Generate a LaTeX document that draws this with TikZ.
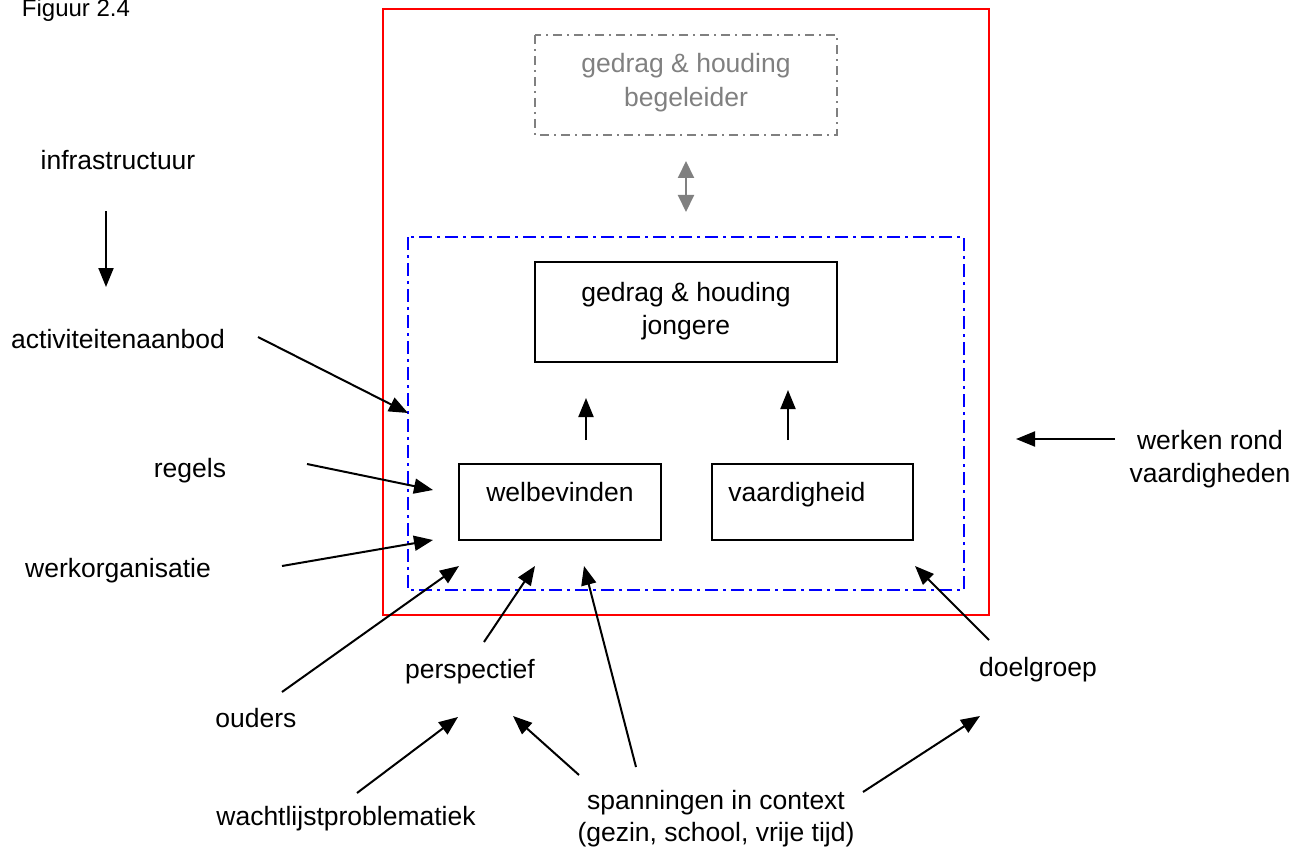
\documentclass[tikz,border=0pt]{standalone}
\usepackage{fontspec}
\setmainfont{Liberation Sans}
\usetikzlibrary{arrows.meta}
\definecolor{framered}{RGB}{255,0,0}
\definecolor{zoneblue}{RGB}{0,0,255}
\definecolor{softgray}{RGB}{128,128,128}
\begin{document}
\begin{tikzpicture}[x=1pt,y=-1pt,
  lbl/.style={font=\fontsize{26.5}{32.5}\selectfont, inner sep=0pt, align=center},
  boxed/.style={draw=black, line width=2.5pt, inner sep=0pt},
  arr/.style={line width=2pt, -{Triangle[length=19pt,width=15pt]}},
  garr/.style={line width=2pt, draw=softgray, {Triangle[length=17pt,width=16pt]}-{Triangle[length=17pt,width=16pt]}},
]
\useasboundingbox (0,0) rectangle (1310,848);

% frames
\draw[framered, line width=2pt] (383,9) rectangle (989,615);
\draw[zoneblue, line width=2pt, dash pattern=on 13pt off 5pt on 3pt off 5pt] (408,237) rectangle (964,590);
\draw[softgray, line width=2pt, dash pattern=on 9pt off 5pt on 2pt off 5pt] (535,35) rectangle (837,135);

% caption
\node[lbl, font=\fontsize{24}{28}\selectfont, anchor=base] (fig) at (76,17) {Figuur 2.4};

% coach box
\node[lbl, font=\fontsize{26.5}{34}\selectfont, text=softgray] (coach) at (686,83) {gedrag \& houding\\begeleider};
\coordinate (cA) at (686,161);
\coordinate (cB) at (686,212);
\draw[garr] (cA) -- (cB);

% youth boxes
\node[boxed, minimum width=302pt, minimum height=100pt] (youth) at (686,312) {};
\node[lbl] (youthtxt) at (686,311) {gedrag \& houding\\jongere};
\node[boxed, minimum width=202pt, minimum height=76pt] (wb) at (560,502) {};
\node[lbl, anchor=base] (wbtxt) at (560,501) {welbevinden};
\node[boxed, minimum width=201pt, minimum height=76pt] (vh) at (812.5,502) {};
\node[lbl, anchor=base] (vhtxt) at (797,501) {vaardigheid};

\coordinate (u1a) at (586,440); \coordinate (u1b) at (586,398);
\coordinate (u2a) at (788,440); \coordinate (u2b) at (788,390);
\draw[arr] (u1a) -- (u1b);
\draw[arr] (u2a) -- (u2b);

% external labels
\node[lbl, anchor=base] (infra) at (118,170) {infrastructuur};
\node[lbl, anchor=base] (act) at (118,348) {activiteitenaanbod};
\node[lbl, anchor=base] (reg) at (190,477) {regels};
\node[lbl, anchor=base] (werk) at (118,577) {werkorganisatie};
\node[lbl, anchor=base] (oud) at (256,727) {ouders};
\node[lbl, anchor=base] (persp) at (470,678) {perspectief};
\node[lbl, anchor=base] (doel) at (1038,676) {doelgroep};
\node[lbl, anchor=base] (wacht) at (346,825) {wachtlijstproblematiek};
\node[lbl, anchor=base] (span) at (716,809) {spanningen in context};
\node[lbl, anchor=base] (span2) at (716,841) {(gezin, school, vrije tijd)};
\node[lbl] (vaard) at (1210,459) {werken rond\\vaardigheden};

% connector ends
\coordinate (iA) at (106,211);  \coordinate (iB) at (106,287);
\coordinate (aA) at (258,337);  \coordinate (aB) at (408,413);
\coordinate (rA) at (307,464);  \coordinate (rB) at (433,490);
\coordinate (wA) at (282,566);  \coordinate (wB) at (433,540);
\coordinate (oA) at (282,692);  \coordinate (oB) at (459,566);
\coordinate (pA) at (484,642);  \coordinate (pB) at (535,566);
\coordinate (sA) at (636,767);  \coordinate (sB) at (584,566);
\coordinate (sC) at (579,775);  \coordinate (sD) at (513,716);
\coordinate (sE) at (863,792);  \coordinate (sF) at (980,716);
\coordinate (wtA) at (357,793); \coordinate (wtB) at (458,717);
\coordinate (dA) at (989,640);  \coordinate (dB) at (915,566);
\coordinate (vA) at (1115,439); \coordinate (vB) at (1016,439);

\draw[arr] (iA) -- (iB);
\draw[arr] (aA) -- (aB);
\draw[arr] (rA) -- (rB);
\draw[arr] (wA) -- (wB);
\draw[arr] (oA) -- (oB);
\draw[arr] (pA) -- (pB);
\draw[arr] (sA) -- (sB);
\draw[arr] (sC) -- (sD);
\draw[arr] (sE) -- (sF);
\draw[arr] (wtA) -- (wtB);
\draw[arr] (dA) -- (dB);
\draw[arr] (vA) -- (vB);
\end{tikzpicture}
\end{document}
